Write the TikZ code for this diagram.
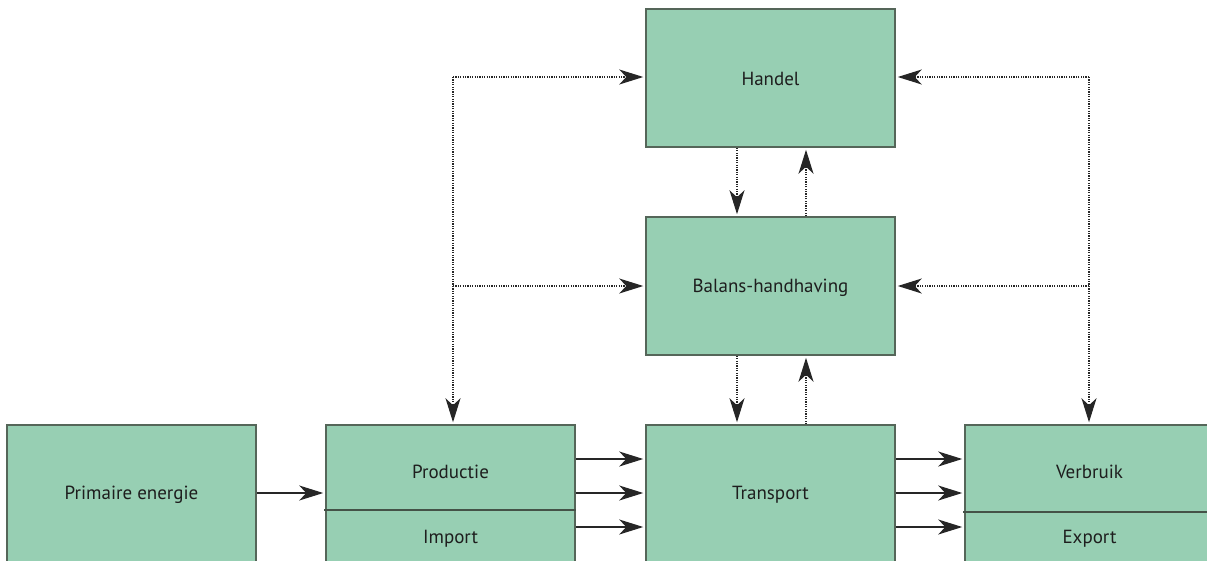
\documentclass[tikz,border=0pt]{standalone}
\usepackage{fontspec}
\setmainfont{PT Sans}
\usetikzlibrary{arrows.meta}
\definecolor{boxfill}{HTML}{97CFB3}
\definecolor{boxline}{HTML}{556659}
\definecolor{inkline}{HTML}{262626}
\definecolor{txt}{HTML}{1E1E1E}
\tikzset{
  blok/.style={draw=boxline, line width=1.5pt, fill=boxfill, minimum width=249pt, minimum height=138pt, inner sep=0pt},
  lbl/.style={text=txt, font=\fontsize{19}{23}\selectfont, inner sep=0pt},
  tip/.style={-{Stealth[length=24pt, width=15pt, inset=7pt]}},
  flow/.style={tip, draw=inkline, line width=1.2pt},
  link/.style={tip, draw=inkline, line width=1.1pt, dash pattern=on 1.2pt off 1.2pt},
  plain/.style={draw=inkline, line width=1.1pt, dash pattern=on 1.2pt off 1.2pt},
  divider/.style={draw=boxline!80!black, line width=1.4pt}
}
\begin{document}
\begin{tikzpicture}[x=1pt, y=-1pt]
\useasboundingbox (0,0) rectangle (1207,560);
\clip (0,0) rectangle (1207,560);

% boxes
\node[blok] (handel) at (770.5,78) {};
\node[blok] (balans) at (770.5,286) {};
\node[blok] (trans) at (770.5,494) {};
\node[blok] (prim) at (131.5,494) {};
\node[blok] (prod) at (450.5,494) {};
\node[blok] (verb) at (1089.5,494) {};

% labels
\node[lbl] (tHandel) at (770.5,78.5) {Handel};
\node[lbl] (tBalans) at (770.5,287.5) {Balans-handhaving};
\node[lbl] (tTrans) at (770.5,494.5) {Transport};
\node[lbl] (tPrim) at (131.5,494.5) {Primaire energie};
\node[lbl] (tProd) at (450.5,471.5) {Productie};
\node[lbl] (tImp) at (450.5,539) {Import};
\node[lbl] (tVerb) at (1089.5,471.5) {Verbruik};
\node[lbl] (tExp) at (1089.5,539) {Export};

% split lines inside the lower boxes
\coordinate (pd1) at (324,510);
\coordinate (vd1) at (963,512);
\draw[divider] (pd1) -- (prod.east |- pd1);
\draw[divider] (vd1) -- (verb.east |- vd1);

% solid energy flows
\draw[flow] (prim.east |- 0,493) -- ([xshift=-2pt]prod.west |- 0,493);
\foreach \yy in {459,493,527}{
  \draw[flow] (prod.east |- 0,\yy) -- ([xshift=-2pt]trans.west |- 0,\yy);
  \draw[flow] (trans.east |- 0,\yy) -- ([xshift=-2pt]verb.west |- 0,\yy);
}

% dotted control links, left side
\coordinate (lt) at (453,77);
\coordinate (lm) at (453,286);
\draw[plain] (lt) -- (lm);
\draw[link] (lt) -- ([xshift=-2pt]handel.west |- lt);
\draw[link] (lm) -- ([xshift=-2pt]balans.west |- lm);
\draw[link] (lm) -- ([yshift=2pt]lm |- prod.north);

% dotted control links, right side
\coordinate (rt) at (1089,77);
\coordinate (rm) at (1089,286);
\draw[plain] (rt) -- (rm);
\draw[link] (rt) -- ([xshift=2pt]handel.east |- rt);
\draw[link] (rm) -- ([xshift=2pt]balans.east |- rm);
\draw[link] (rm) -- ([yshift=2pt]rm |- verb.north);

% dotted links between the stacked boxes
\draw[link] ([xshift=-33.5pt]handel.south) -- ([xshift=-33.5pt,yshift=2pt]balans.north);
\draw[link] ([xshift=35.5pt]balans.north) -- ([xshift=35.5pt,yshift=-2pt]handel.south);
\draw[link] ([xshift=-33.5pt]balans.south) -- ([xshift=-33.5pt,yshift=2pt]trans.north);
\draw[link] ([xshift=35.5pt]trans.north) -- ([xshift=35.5pt,yshift=-2pt]balans.south);
\end{tikzpicture}
\end{document}
